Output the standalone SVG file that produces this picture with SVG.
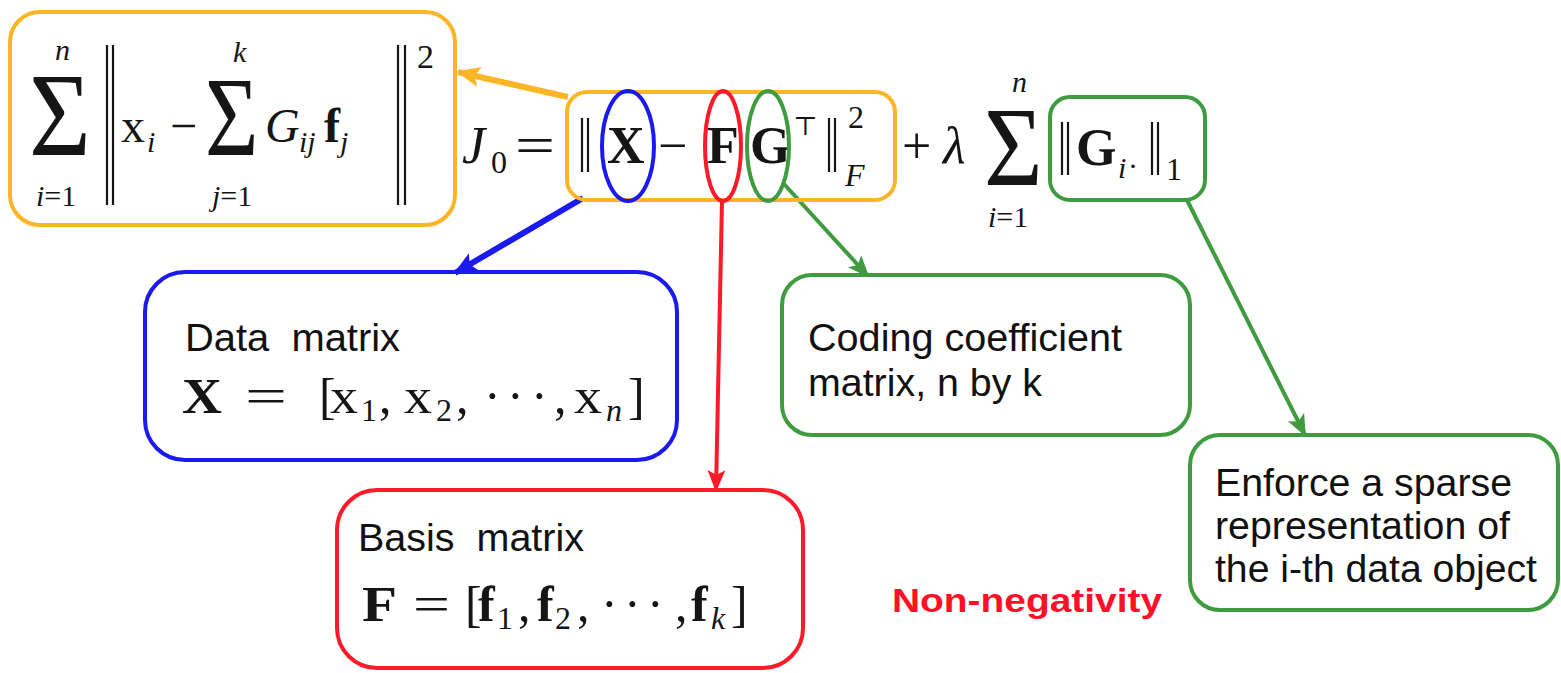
<svg xmlns="http://www.w3.org/2000/svg" width="1561" height="673" viewBox="0 0 1561 673">
  <defs>
    <style>
      .box{fill:none;stroke-width:4}
      .orange{stroke:#FBB526}
      .blue{stroke:#1A1AF0}
      .red{stroke:#FF1A2A}
      .green{stroke:#3F9B3F}
      .lbl{font-family:"Liberation Sans",Arial,sans-serif;font-size:38px;fill:#111}
      .m{font-family:"Liberation Serif","DejaVu Serif",serif;fill:#151515}
      .bf{font-weight:bold}
      .it{font-style:italic}
      .bar{stroke:#151515;stroke-width:2.2}
      .conn{fill:none;stroke-linecap:butt}
    </style>
    <marker id="ah-orange" markerUnits="userSpaceOnUse" markerWidth="24" markerHeight="24" viewBox="0 0 24 24" refX="22" refY="12" orient="auto">
      <path d="M0,2 L24,12 L0,22 L5,12 Z" fill="#FBB526"/>
    </marker>
    <marker id="ah-blue" markerUnits="userSpaceOnUse" markerWidth="24" markerHeight="24" viewBox="0 0 24 24" refX="22" refY="12" orient="auto">
      <path d="M0,2 L24,12 L0,22 L5,12 Z" fill="#1A1AF0"/>
    </marker>
    <marker id="ah-red" markerUnits="userSpaceOnUse" markerWidth="22" markerHeight="22" viewBox="0 0 22 22" refX="20" refY="11" orient="auto">
      <path d="M0,2 L22,11 L0,20 L5,11 Z" fill="#FF1A2A"/>
    </marker>
    <marker id="ah-green" markerUnits="userSpaceOnUse" markerWidth="22" markerHeight="22" viewBox="0 0 22 22" refX="20" refY="11" orient="auto">
      <path d="M0,2 L22,11 L0,20 L5,11 Z" fill="#3F9B3F"/>
    </marker>
  </defs>

  <rect width="1561" height="673" fill="#ffffff"/>

  <!-- connectors -->
  <g id="connectors" class="conn">
    <line x1="568" y1="97" x2="458" y2="72" stroke="#FBB526" stroke-width="6" marker-end="url(#ah-orange)"/>
    <line x1="583" y1="198" x2="455" y2="273" stroke="#1A1AF0" stroke-width="6" marker-end="url(#ah-blue)"/>
    <line x1="722" y1="201" x2="716" y2="490" stroke="#FF1A2A" stroke-width="4" marker-end="url(#ah-red)"/>
    <line x1="784" y1="184" x2="868" y2="276" stroke="#3F9B3F" stroke-width="4" marker-end="url(#ah-green)"/>
    <line x1="1187" y1="200" x2="1305" y2="435" stroke="#3F9B3F" stroke-width="4" marker-end="url(#ah-green)"/>
  </g>

  <!-- expanded reconstruction error -->
  <g id="sum-expansion">
    <rect class="box orange" x="10" y="12" width="445" height="213" rx="30"/>
    <text class="m" transform="translate(29,155) scale(0.9,1)" font-size="118">Σ</text>
    <text class="m it" x="55" y="60" font-size="30">n</text>
    <text class="m" x="36" y="206" font-size="30"><tspan class="it">i</tspan>=1</text>
    <line class="bar" x1="107" y1="45" x2="107" y2="205"/>
    <line class="bar" x1="113" y1="45" x2="113" y2="205"/>
    <text class="m" x="121" y="142" font-size="48">x</text>
    <text class="m it" x="147" y="152" font-size="30">i</text>
    <text class="m" x="170" y="142" font-size="48">−</text>
    <text class="m" transform="translate(205,155) scale(0.82,1)" font-size="112">Σ</text>
    <text class="m it" x="233" y="62" font-size="30">k</text>
    <text class="m" x="212" y="206" font-size="30"><tspan class="it">j</tspan>=1</text>
    <text class="m it" x="265" y="142" font-size="48">G</text>
    <text class="m it" x="299" y="152" font-size="30">ij</text>
    <text class="m bf" x="324" y="142" font-size="48">f</text>
    <text class="m it" x="340" y="152" font-size="30">j</text>
    <line class="bar" x1="398" y1="45" x2="398" y2="205"/>
    <line class="bar" x1="405" y1="45" x2="405" y2="205"/>
    <text class="m" x="417" y="68" font-size="34">2</text>
  </g>

  <!-- objective -->
  <g id="objective-lhs">
    <text class="m it" x="462" y="163" font-size="52">J</text>
    <text class="m" x="491" y="173" font-size="32">0</text>
    <text class="m" x="515" y="163" font-size="52" textLength="40" lengthAdjust="spacingAndGlyphs">=</text>
  </g>

  <g id="frobenius-term">
    <rect class="box orange" x="567" y="92" width="328" height="108" rx="20"/>
    <line class="bar" x1="582" y1="118" x2="582" y2="172"/>
    <line class="bar" x1="588" y1="118" x2="588" y2="172"/>
    <text class="m bf" x="607" y="163" font-size="52">X</text>
    <text class="m" x="658" y="163" font-size="52">−</text>
    <text class="m bf" x="707" y="163" font-size="52">F</text>
    <text class="m bf" x="750" y="163" font-size="52">G</text>
    <text class="m" x="793" y="135" font-size="26" font-family="DejaVu Serif, serif">⊤</text>
    <line class="bar" x1="829" y1="118" x2="829" y2="172"/>
    <line class="bar" x1="835" y1="118" x2="835" y2="172"/>
    <text class="m" x="848" y="128" font-size="32">2</text>
    <text class="m it" x="845" y="186" font-size="32">F</text>
  </g>

  <g id="mark-X"><ellipse cx="628" cy="146" rx="26" ry="55" fill="none" stroke="#1A1AF0" stroke-width="4"/></g>
  <g id="mark-F"><ellipse cx="723" cy="146" rx="18" ry="55" fill="none" stroke="#FF1A2A" stroke-width="4"/></g>
  <g id="mark-G"><ellipse cx="768" cy="146" rx="21" ry="55" fill="none" stroke="#3F9B3F" stroke-width="4"/></g>

  <g id="regularizer">
    <text class="m" x="902" y="163" font-size="52">+</text>
    <text class="m it" x="943" y="163" font-size="52">λ</text>
    <text class="m" transform="translate(984,185) scale(0.9,1)" font-size="112">Σ</text>
    <text class="m it" x="1012" y="92" font-size="30">n</text>
    <text class="m" x="988" y="227" font-size="30"><tspan class="it">i</tspan>=1</text>
  </g>

  <g id="l1-term">
    <rect class="box green" x="1050" y="97" width="155" height="103" rx="20"/>
    <line class="bar" x1="1062" y1="122" x2="1062" y2="175"/>
    <line class="bar" x1="1068" y1="122" x2="1068" y2="175"/>
    <text class="m bf" x="1076" y="165" font-size="52">G</text>
    <text class="m it" x="1118" y="178" font-size="30">i</text>
    <text class="m" x="1128" y="176" font-size="30">·</text>
    <line class="bar" x1="1152" y1="122" x2="1152" y2="175"/>
    <line class="bar" x1="1158" y1="122" x2="1158" y2="175"/>
    <text class="m" x="1166" y="180" font-size="32">1</text>
  </g>

  <!-- explanation boxes -->
  <g id="data-matrix">
    <rect class="box blue" x="145" y="272" width="532" height="188" rx="40"/>
    <text class="lbl" x="185" y="351" textLength="215" lengthAdjust="spacingAndGlyphs" xml:space="preserve">Data  matrix</text>
    <g class="m" font-size="50">
      <text class="bf" x="182" y="413" textLength="40" lengthAdjust="spacingAndGlyphs">X</text>
      <text x="245" y="413" textLength="42" lengthAdjust="spacingAndGlyphs">=</text>
      <text x="319" y="413">[</text>
      <text x="330" y="413" textLength="28" lengthAdjust="spacingAndGlyphs">x</text>
      <text x="361" y="421" font-size="32">1</text>
      <text x="379" y="413">,</text>
      <text x="404" y="413" textLength="28" lengthAdjust="spacingAndGlyphs">x</text>
      <text x="436" y="421" font-size="32">2</text>
      <text x="456" y="413">,</text>
      <text x="484" y="413">·</text>
      <text x="507" y="413">·</text>
      <text x="531" y="413">·</text>
      <text x="554" y="413">,</text>
      <text x="574" y="413" textLength="28" lengthAdjust="spacingAndGlyphs">x</text>
      <text class="it" x="606" y="421" font-size="32">n</text>
      <text x="628" y="413">]</text>
    </g>
  </g>

  <g id="basis-matrix">
    <rect class="box red" x="337" y="490" width="466" height="178" rx="40"/>
    <text class="lbl" x="358" y="551" textLength="226" lengthAdjust="spacingAndGlyphs" xml:space="preserve">Basis  matrix</text>
    <g class="m" font-size="50">
      <text class="bf" x="362" y="621" textLength="35" lengthAdjust="spacingAndGlyphs">F</text>
      <text x="413" y="621" textLength="37" lengthAdjust="spacingAndGlyphs">=</text>
      <text x="465" y="621">[</text>
      <text class="bf" x="478" y="621">f</text>
      <text x="497" y="629" font-size="32">1</text>
      <text x="518" y="621">,</text>
      <text class="bf" x="537" y="621">f</text>
      <text x="555" y="629" font-size="32">2</text>
      <text x="577" y="621">,</text>
      <text x="601" y="621">·</text>
      <text x="624" y="621">·</text>
      <text x="647" y="621">·</text>
      <text x="675" y="621">,</text>
      <text class="bf" x="691" y="621">f</text>
      <text class="it" x="711" y="629" font-size="32">k</text>
      <text x="731" y="621">]</text>
    </g>
  </g>

  <g id="coding-matrix">
    <rect class="box green" x="782" y="275" width="408" height="160" rx="30"/>
    <text class="lbl" x="808" y="351" textLength="314" lengthAdjust="spacingAndGlyphs">Coding coefficient</text>
    <text class="lbl" x="808" y="396" textLength="234" lengthAdjust="spacingAndGlyphs">matrix, n by k</text>
  </g>

  <g id="sparsity">
    <rect class="box green" x="1190" y="435" width="368" height="175" rx="30"/>
    <text class="lbl" x="1215" y="496" textLength="297" lengthAdjust="spacingAndGlyphs">Enforce a sparse</text>
    <text class="lbl" x="1215" y="539" textLength="295" lengthAdjust="spacingAndGlyphs">representation of</text>
    <text class="lbl" x="1215" y="582" textLength="322" lengthAdjust="spacingAndGlyphs">the i-th data object</text>
  </g>

  <text id="non-negativity" x="892" y="612" font-family="Liberation Sans, Arial, sans-serif" font-weight="bold" font-size="34" fill="#FF1028" textLength="270" lengthAdjust="spacingAndGlyphs">Non-negativity</text>
</svg>
